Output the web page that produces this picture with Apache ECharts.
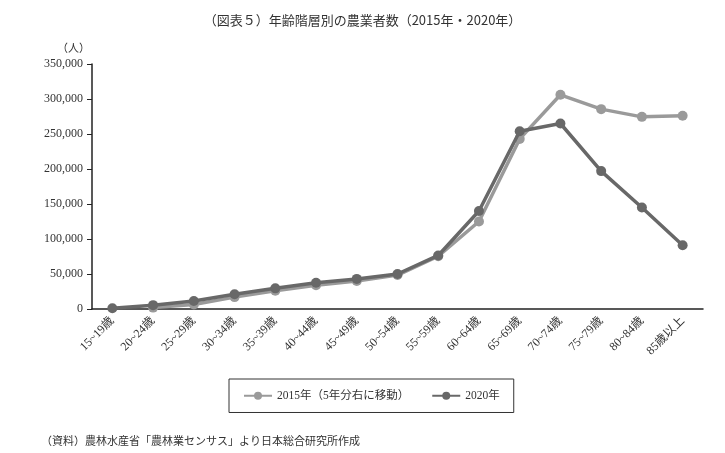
<!DOCTYPE html>
<html><head><meta charset="utf-8">
<script src="https://cdn.jsdelivr.net/npm/echarts@6/dist/echarts.min.js"></script>
<style>html,body{margin:0;padding:0;background:#fff}#c{width:725px;height:453px}</style>
</head><body><div id="c"></div>
<script>
const categories = ['15~19歳','20~24歳','25~29歳','30~34歳','35~39歳','40~44歳','45~49歳','50~54歳','55~59歳','60~64歳','65~69歳','70~74歳','75~79歳','80~84歳','85歳以上'];
const values2015 = [null, 2000, 6500, 17000, 26000, 34000, 40000, 48500, 75500, 125000, 243000, 306000, 285500, 274500, 276000];
const values2020 = [1000, 5500, 11500, 21000, 29500, 37500, 43000, 50000, 76500, 140000, 254000, 265000, 197000, 145000, 91000];
const yTicks = [0, 50000, 100000, 150000, 200000, 250000, 300000, 350000];

const serif = '"Liberation Serif","DejaVu Serif","Noto Sans CJK JP",serif';
const chart = echarts.init(document.getElementById('c'));
chart.setOption({
  animation: false,
  title: [{
    text: '（図表５）年齢階層別の農業者数（2015年・2020年）',
    left: 'center', top: 9,
    textStyle: {fontSize: 13, fontWeight: 'normal', color: '#333', fontFamily: '"Noto Sans CJK JP",sans-serif'}
  },{
    text: '（人）', left: 52, top: 37,
    textStyle: {fontSize: 11, fontWeight: 'normal', color: '#333', fontFamily: '"Noto Sans CJK JP",serif'}
  },{
    text: '（資料）農林水産省「農林業センサス」より日本総合研究所作成', left: 36, top: 430,
    textStyle: {fontSize: 11, fontWeight: 'normal', color: '#333', fontFamily: '"Noto Sans CJK JP",serif'}
  }],
  legend: {
    left: 229, top: 379, width: 285, height: 36,
    padding: [11, 14, 11, 14],
    borderColor: '#333', borderWidth: 1,
    itemWidth: 28, itemHeight: 10, itemGap: 22,
    textStyle: {fontSize: 11.5, color: '#333', fontFamily: serif},
    data: ['2015年（5年分右に移動）','2020年']
  },
  grid: {left: 92, right: 22, top: 64, bottom: 144},
  xAxis: {
    type: 'category', data: categories, boundaryGap: true,
    axisLine: {lineStyle: {color: '#222', width: 1.5}},
    axisTick: {show: false},
    axisLabel: {rotate: 45, fontSize: 12, color: '#333', fontFamily: serif, margin: 10, interval: 0}
  },
  yAxis: {
    type: 'value', min: 0, max: 350000, interval: 50000,
    axisLine: {show: true, lineStyle: {color: '#222', width: 1.5}},
    axisTick: {show: true, inside: false, length: 5, lineStyle: {color: '#222'}},
    splitLine: {show: false},
    axisLabel: {fontSize: 12, color: '#333', fontFamily: serif, margin: 9,
      formatter: v => yTicks.includes(v) ? v.toLocaleString('en-US') : ''}
  },
  series: [{
    name: '2015年（5年分右に移動）', type: 'line', data: values2015,
    symbol: 'circle', symbolSize: 10, connectNulls: false,
    lineStyle: {color: '#9a9a9a', width: 3.5}, itemStyle: {color: '#9a9a9a'}, z: 2
  },{
    name: '2020年', type: 'line', data: values2020,
    symbol: 'circle', symbolSize: 10,
    lineStyle: {color: '#686868', width: 3.5}, itemStyle: {color: '#686868'}, z: 3
  }]
});
</script></body></html>
